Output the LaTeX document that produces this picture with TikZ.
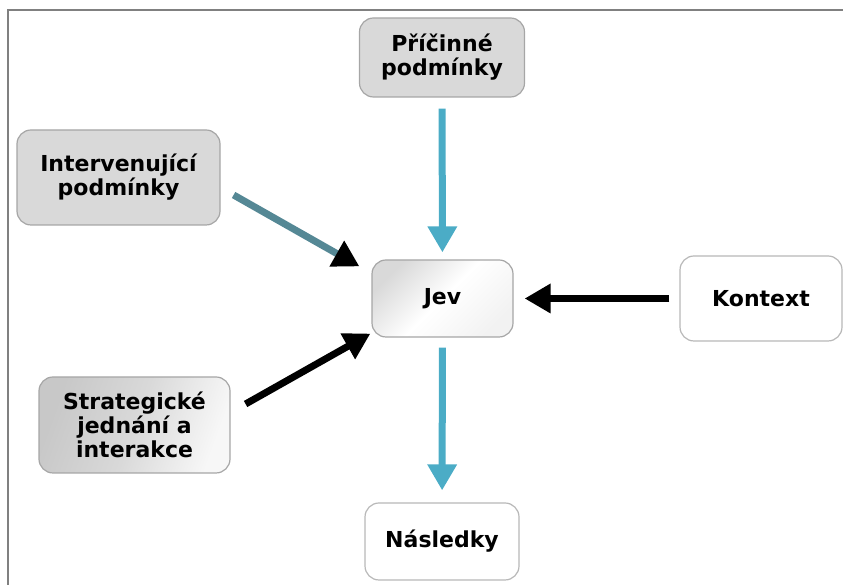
\documentclass[tikz,border=0pt]{standalone}
\usepackage{fontspec}
\setmainfont{DejaVu Sans}
\usetikzlibrary{arrows.meta,calc}
\definecolor{boxgray}{HTML}{D9D9D9}
\definecolor{edgegray}{HTML}{A6A6A6}
\definecolor{aqua}{HTML}{4BACC6}
\definecolor{darkaqua}{HTML}{2B6A7A}

\begin{document}
\begin{tikzpicture}[x=1pt,y=1pt,
    box/.style={rounded corners=14pt, draw=edgegray, line width=1.2pt, align=center,
        font=\bfseries\fontsize{22}{24}\selectfont, inner sep=0pt},
    graybox/.style={box, fill=boxgray},
    whitebox/.style={box, fill=white, draw=edgegray!80},
    flow/.style={line width=7pt, -{Triangle[width=28pt,length=26pt]}}]
    % Frame and picture size
    \useasboundingbox (0,0) rectangle (843,585);
    \draw[gray, line width=2pt] (8,0) -- (8,575) -- (843,575);

    % Boxes
    \node[graybox, minimum width=165pt, minimum height=79pt] (pric) at (442,527.5) {Příčinné\\podmínky};
    \node[graybox, minimum width=203pt, minimum height=95pt] (interv) at (118.5,407.5) {Intervenující\\podmínky};
    \node[box, minimum width=141pt, minimum height=77pt, shading=axis, left color=gray!30,
        right color=gray!10, middle color=white, shading angle=45] (jev) at (442.5,286.5) {Jev};
    \node[whitebox, minimum width=162pt, minimum height=85pt] (kontext) at (761,286.5) {Kontext};
    \node[box, minimum width=191pt, minimum height=96pt, shading=axis, left color=boxgray!92!black,
        right color=white!80!boxgray, middle color=boxgray, shading angle=70] (strat) at (134.5,160)
        {Strategické\\jednání a\\interakce};
    \node[whitebox, minimum width=154pt, minimum height=77pt] (nasl) at (442,43.5) {Následky};

    % Arrows into and out of Jev
    \draw[flow, aqua, shorten <=11pt, shorten >=7pt] (pric) -- (jev);
    \draw[flow, darkaqua!80, -{Triangle[width=28pt,length=26pt,fill=black,color=black]}]
        ($(interv.east)+(13,-17.5)$) -- ($(jev.north west)+(-12,-7)$);
    \draw[flow, black] ($(strat.east)+(15,21)$) -- ($(jev.south west)+(-1,4)$);
    \draw[flow, black, shorten <=10pt, shorten >=11pt] (kontext) -- (jev);
    \draw[flow, aqua, shorten <=10pt, shorten >=12pt] (jev) -- (nasl);
\end{tikzpicture}
\end{document}
